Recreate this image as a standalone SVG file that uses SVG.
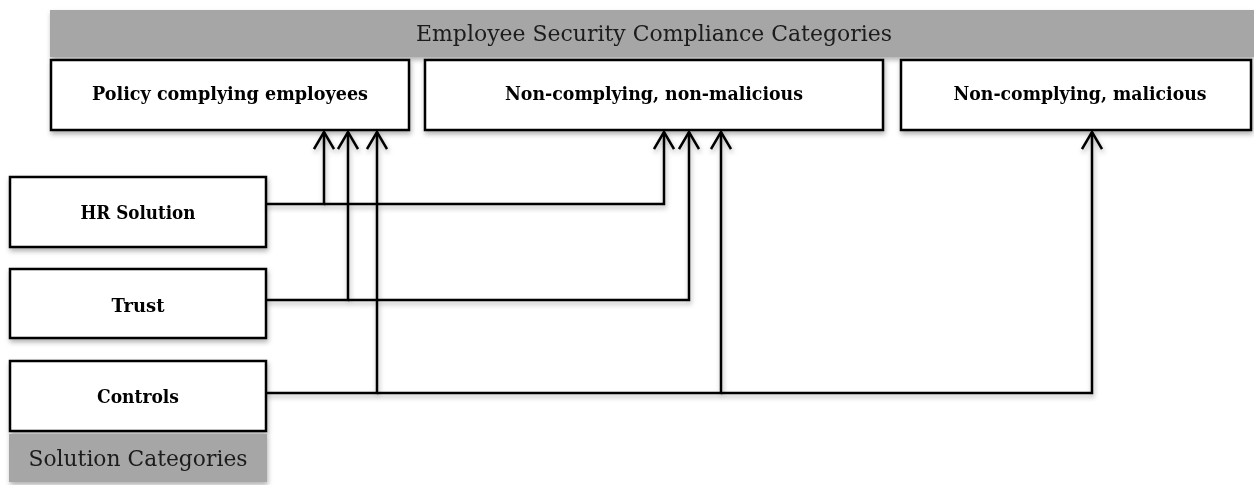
<svg xmlns="http://www.w3.org/2000/svg" width="1254" height="485" viewBox="0 0 1254 485">
<style>
.box{fill:#fff;stroke:#000;stroke-width:2.5}
.band{fill:#a6a6a6}
.lbl{font-family:"DejaVu Serif","Liberation Serif",serif;font-weight:bold;font-size:19px;fill:#000;text-anchor:middle}
.ttl{font-family:"DejaVu Serif","Liberation Serif",serif;font-size:23px;fill:#1a1a1a;text-anchor:middle}
.con{fill:none;stroke:#000;stroke-width:2.5}
</style>
<defs>
<filter id="sh" x="-10%" y="-10%" width="120%" height="130%">
<feDropShadow dx="1" dy="3" stdDeviation="2.5" flood-color="#000" flood-opacity="0.3"/>
</filter>
<marker id="arr" viewBox="0 0 20 22" refX="18" refY="11" markerWidth="20" markerHeight="22" markerUnits="userSpaceOnUse" orient="auto">
<path d="M1,1 L18,11 L1,21" fill="none" stroke="#000" stroke-width="2.5"/>
</marker>
</defs>

<g id="header" filter="url(#sh)">
<rect class="band" x="50" y="10" width="1204" height="47"/>
<text class="ttl" x="654" y="41" textLength="476" lengthAdjust="spacingAndGlyphs">Employee Security Compliance Categories</text>
</g>

<g id="policy-complying" filter="url(#sh)">
<rect class="box" x="51" y="60" width="358" height="70"/>
<text class="lbl" x="230" y="100" textLength="276" lengthAdjust="spacingAndGlyphs">Policy complying employees</text>
</g>
<g id="non-complying-non-malicious" filter="url(#sh)">
<rect class="box" x="425" y="60" width="458" height="70"/>
<text class="lbl" x="654" y="100" textLength="298" lengthAdjust="spacingAndGlyphs">Non-complying, non-malicious</text>
</g>
<g id="non-complying-malicious" filter="url(#sh)">
<rect class="box" x="901" y="60" width="350" height="70"/>
<text class="lbl" x="1080" y="100" textLength="253" lengthAdjust="spacingAndGlyphs">Non-complying, malicious</text>
</g>

<g id="hr-solution" filter="url(#sh)">
<rect class="box" x="10" y="177" width="256" height="70"/>
<text class="lbl" x="138" y="219" textLength="115" lengthAdjust="spacingAndGlyphs">HR Solution</text>
</g>
<g id="trust" filter="url(#sh)">
<rect class="box" x="10" y="269" width="256" height="69"/>
<text class="lbl" x="138" y="312" textLength="53" lengthAdjust="spacingAndGlyphs">Trust</text>
</g>
<g id="controls" filter="url(#sh)">
<rect class="box" x="10" y="361" width="256" height="70"/>
<text class="lbl" x="138" y="403" textLength="82" lengthAdjust="spacingAndGlyphs">Controls</text>
</g>
<g id="solution-categories" filter="url(#sh)">
<rect class="band" x="9" y="434" width="258" height="48"/>
<text class="ttl" x="138" y="466" textLength="219" lengthAdjust="spacingAndGlyphs">Solution Categories</text>
</g>

<g id="connectors" filter="url(#sh)">
<path class="con" d="M266,204 H324 V132" marker-end="url(#arr)"/>
<path class="con" d="M324,204 H664 V132" marker-end="url(#arr)"/>
<path class="con" d="M266,300 H348 V132" marker-end="url(#arr)"/>
<path class="con" d="M348,300 H689 V132" marker-end="url(#arr)"/>
<path class="con" d="M266,393 H377 V132" marker-end="url(#arr)"/>
<path class="con" d="M377,393 H721 V132" marker-end="url(#arr)"/>
<path class="con" d="M721,393 H1092 V132" marker-end="url(#arr)"/>
</g>
</svg>
